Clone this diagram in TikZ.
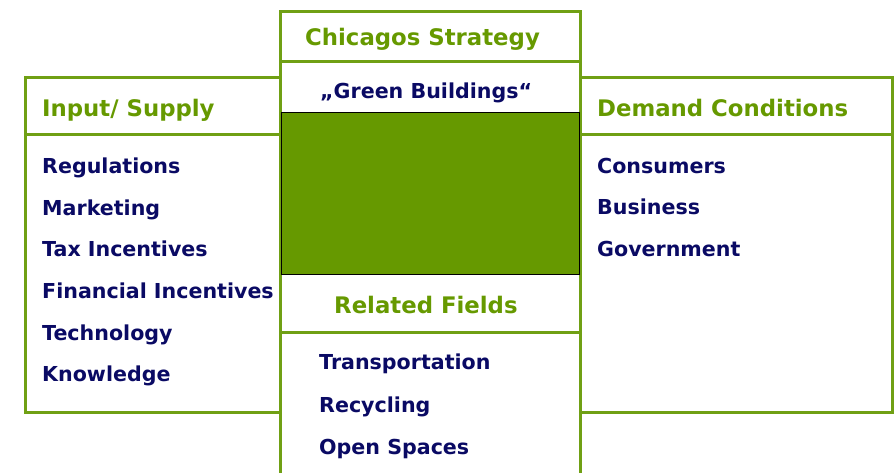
\documentclass[tikz,border=0pt]{standalone}
\usepackage{fontspec}
\setmainfont{DejaVu Sans}
\usepackage{tikz}
\definecolor{leaf}{RGB}{102,153,0}
\definecolor{frame}{RGB}{112,160,20}
\definecolor{ink}{RGB}{10,10,100}

\begin{document}
\begin{tikzpicture}[x=1pt,y=1pt]
    \tikzstyle{box}=[draw=frame,line width=3pt]
    \tikzstyle{head}=[anchor=west,inner sep=0pt,text height=16.6pt,text depth=0pt,text=leaf,font=\fontsize{22.8}{24}\selectfont\bfseries]
    \tikzstyle{item}=[anchor=west,inner sep=0pt,text height=15pt,text depth=0pt,text=ink,font=\fontsize{20.6}{22}\selectfont\bfseries]
    \useasboundingbox (0,0) rectangle (894,-473);
    % left and right boxes
    \draw[box] (25,-78) rectangle (280,-412);
    \draw[box] (25,-135) -- (280,-135);
    \draw[box] (580,-78) rectangle (892,-412);
    \draw[box] (580,-135) -- (892,-135);
    % centre column
    \draw[box] (280,-480) |- (580,-12) -- (580,-480);
    \draw[box] (280,-62) -- (580,-62);
    \draw[box] (280,-332) -- (580,-332);
    \draw[fill=leaf,draw=black,line width=1pt] (281,-113) rectangle (579,-274);
    % headers
    \node[head] (supply) at (42,-108) {Input/ Supply};
    \node[head] (demand) at (597,-108) {Demand Conditions};
    \node[head] (strategy) at (305,-37) {Chicagos Strategy};
    \node[head] (related) at (334,-305) {Related Fields};
    \node[item] (green) at (320,-91) {„Green Buildings“};
    % items
    \node[item] (reg) at (42,-166) {Regulations};
    \node[item] (mark) at (42,-208) {Marketing};
    \node[item] (tax) at (42,-249) {Tax Incentives};
    \node[item] (fin) at (42,-291) {Financial Incentives};
    \node[item] (tech) at (42,-333) {Technology};
    \node[item] (know) at (42,-374) {Knowledge};
    \node[item] (cons) at (597,-166) {Consumers};
    \node[item] (bus) at (597,-207) {Business};
    \node[item] (gov) at (597,-249) {Government};
    \node[item] (trans) at (319,-362) {Transportation};
    \node[item] (recy) at (319,-405) {Recycling};
    \node[item] (open) at (319,-447) {Open Spaces};
\end{tikzpicture}
\end{document}
